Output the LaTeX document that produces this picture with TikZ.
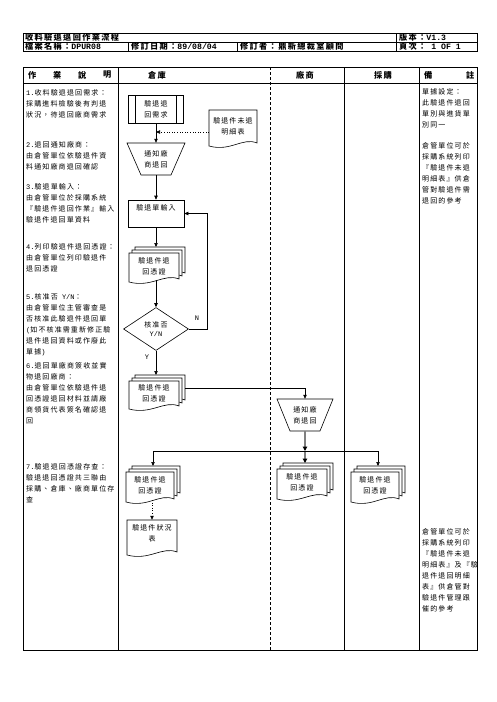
\documentclass[tikz,border=0pt]{standalone}
\usepackage{fontspec}
\setmainfont{Noto Sans CJK TC}
\newfontfamily\cjk[LetterSpace=16]{Noto Sans CJK TC}
\newfontfamily\monofam{Liberation Mono}
\newcommand\asc[1]{{\monofam #1}}
\usetikzlibrary{arrows.meta,shapes.geometric}

\newcommand\docshape[4]{%
 \draw[shp] ({#1},{#4}) -- ({#1},{#2}) -- ({#3},{#2}) -- ({#3},{(#4)-3})
  .. controls ({(#3)-0.3*((#3)-(#1))},{(#4)-9}) and ({(#1)+0.45*((#3)-(#1))},{(#4)+6}) .. ({#1},{#4}) -- cycle;}

\newcommand\mdoc[6]{%
 \docshape{(#2)+6}{(#3)-6}{(#4)+6}{(#5)-6}%
 \docshape{(#2)+3}{(#3)-3}{(#4)+3}{(#5)-3}%
 \docshape{#2}{#3}{#4}{#5}%
 \node[lbl] (#1) at ({((#2)+(#4))/2},{((#3)+(#5))/2-1.5}) {#6};
 \coordinate (#1-top) at ({((#2)+(#4))/2+3},{(#3)-6});
 \coordinate (#1-bot) at ({((#2)+(#4))/2},{(#5)-2});
 \coordinate (#1-r) at ({(#4)+6},{(#3)+7});}

\begin{document}
\begin{tikzpicture}[x=1pt,y=-1pt,
 tbl/.style={line width=0.9pt},
 shp/.style={draw=black, line width=0.6pt, fill=white},
 lbl/.style={font=\cjk\fontsize{7}{11}\selectfont, align=center, inner sep=0pt},
 txt/.style={font=\cjk\fontsize{7}{11}\selectfont, align=left, anchor=north west, inner sep=0pt},
 hdr/.style={font=\cjk\bfseries\fontsize{8.2}{9}\selectfont, anchor=west, inner sep=0pt},
 area/.style 2 args={minimum width=#1, minimum height=#2, inner sep=0pt},
 arr/.style={line width=0.6pt, -{Triangle[length=4pt,width=3.4pt]}},
 dotarr/.style={arr, dotted},
 garr/.style={draw=black!50, line width=1.6pt, -{Triangle[length=4.5pt,width=4.5pt,color=black]}},
 ylab/.style={font=\monofam\fontsize{7}{8}\selectfont, inner sep=0pt}
]
\useasboundingbox (0,0) rectangle (496,702);
\fill[white] (0,0) rectangle (496,702);

% header table
\draw[tbl] (23,33) rectangle (477,51);
\draw[tbl] (23,42) -- (477,42) (396,33) -- (396,51) (128,42) -- (128,51) (237,42) -- (237,51);
\node[hdr] (h1) at (25,37.5) {收料驗退退回作業流程};
\node[hdr] (h2) at (399,37.5) {版本：\asc{V1.3}};
\node[hdr] (h3) at (25,46.5) {檔案名稱：\asc{DPUR08}};
\node[hdr] (h4) at (131,46.5) {修訂日期：\asc{89/08/04}};
\node[hdr] (h5) at (240,46.5) {修訂者：鼎新總裁室顧問};
\node[hdr] (h6) at (399,46.5) {頁次：\asc{~1~OF~1}};

% main table
\draw[tbl] (23,67) rectangle (477,650);
\draw[tbl] (23,83) -- (477,83) (118,67) -- (118,650) (344,67) -- (344,650) (419,67) -- (419,650);
\draw[line width=0.8pt, dash pattern=on 3pt off 2pt] (270,67) -- (270,650);
\node[hdr] (c1) at (28,75) {作};
\node[hdr] (c2) at (53,75) {業};
\node[hdr] (c3) at (78,75) {說};
\node[hdr] (c4) at (103,75) {明};
\node[hdr] (c5) at (148,75) {倉庫};
\node[hdr, anchor=center] (c6) at (305,75) {廠商};
\node[hdr, anchor=center] (c7) at (383,75) {採購};
\node[hdr] (c8) at (424,75) {備};
\node[hdr] (c9) at (466,75) {註};

% left column texts
\node[txt] (t1) at (26,89) {\asc{1.}收料驗退退回需求：\\採購進料檢驗後有判退\\狀況，待退回廠商需求};
\node[txt] (t2) at (26,141) {\asc{2.}退回通知廠商：\\由倉管單位依驗退件資\\料通知廠商退回確認};
\node[txt] (t3) at (26,183) {\asc{3.}驗退單輸入：\\由倉管單位於採購系統\\『驗退件退回作業』輸入\\驗退件退回單資料};
\node[txt] (t4) at (26,243) {\asc{4.}列印驗退件退回憑證：\\由倉管單位列印驗退件\\退回憑證};
\node[txt] (t5) at (26,293) {\asc{5.}核准否\asc{~Y/N}：\\由倉管單位主管審查是\\否核准此驗退件退回單\\\asc{(}如不核准需重新修正驗\\退件退回資料或作廢此\\單據\asc{)}};
\node[txt] (t6) at (26,362) {\asc{6.}退回單廠商簽收並實\\物退回廠商：\\由倉管單位依驗退件退\\回憑證退回材料並請廠\\商領貨代表簽名確認退\\回};
\node[txt] (t7) at (26,463) {\asc{7.}驗退退回憑證存查：\\驗退退回憑證共三聯由\\採購、倉庫、廠商單位存\\查};

% remarks
\node[txt] (r1) at (422,88) {單據設定：\\此驗退件退回\\單別與進貨單\\別同一};
\node[txt] (r2) at (422,142) {倉管單位可於\\採購系統列印\\『驗退件未退\\明細表』供倉\\管對驗退件需\\退回的參考};
\node[txt] (r3) at (422,528) {倉管單位可於\\採購系統列印\\『驗退件未退\\明細表』及『驗\\退件退回明細\\表』供倉管對\\驗退件管理跟\\催的參考};

% shapes
\draw[shp] (128.5,95) rectangle (183.5,123);
\draw[shp] (135.5,95) -- (135.5,123) (176.5,95) -- (176.5,123);
\node[lbl, area={55}{28}] (req) at (156,109) {驗退退\\回需求};

\docshape{209}{110}{257}{146}
\node[lbl, area={48}{32}] (det) at (233,126) {驗退件未退\\明細表};
\coordinate (dw) at ([yshift=-6pt]det.west);

\draw[shp] (127,143) -- (185,143) -- (171,175) -- (141,175) -- cycle;
\node[lbl, area={58}{32}] (ntf) at (156,159) {通知廠\\商退回};

\node[shp, font=\cjk\fontsize{7}{11}\selectfont, minimum width=56, text height=10.5, text depth=16.5, inner sep=0pt] (inp) at (156,213.5) {驗退單輸入};

\mdoc{md1}{129}{253}{179}{282}{驗退件退\\回憑證}

\node[shp, diamond, lbl, minimum width=65, minimum height=43] (dia) at (156,329) {核准否\\[-2pt]\asc{Y/N}};

\mdoc{md2}{129}{381}{179}{409}{驗退件退\\回憑證}

\draw[shp] (277,399) -- (333,399) -- (320,431) -- (290,431) -- cycle;
\node[lbl, area={56}{32}] (ntf2) at (305,415) {通知廠\\商退回};
\coordinate (jn) at (305,451);

\mdoc{md3}{126}{472}{174}{502}{驗退件退\\回憑證}
\mdoc{md4}{277}{469}{327}{499}{驗退件退\\回憑證}
\mdoc{md5}{351}{472}{399}{502}{驗退件退\\回憑證}

\docshape{127}{520}{177}{555}
\node[lbl, area={50}{27}] (sts) at (152,533.5) {驗退件狀況\\表};

\node[ylab] (nl) at (197,318) {N};
\node[ylab] (yl) at (147,357) {Y};

% connectors
\draw[arr] (req.south) -- (ntf.north);
\draw[dotarr] (dw) -- (req.south |- dw);
\draw[arr] (ntf.south) -- (inp.north);
\draw[arr] (inp.south) -- (inp.south |- md1-top);
\draw[arr] (dia.north |- md1-bot) -- (dia.north);
\draw[arr] (dia.east) -- ++(18.5,0) |- (inp.east);
\draw[arr] (dia.south) -- (dia.south |- md2-top);
\draw[arr] (md2-r) -| (ntf2.north);
\draw[garr] (ntf2.south) -- (jn);
\draw[garr] (jn) -- (md4-top);
\draw[arr] (jn) -| (md3-top);
\draw[arr] (jn) -| (md5-top);
\draw[dotarr] (sts.north |- md3-bot) -- (sts.north);
\end{tikzpicture}
\end{document}
